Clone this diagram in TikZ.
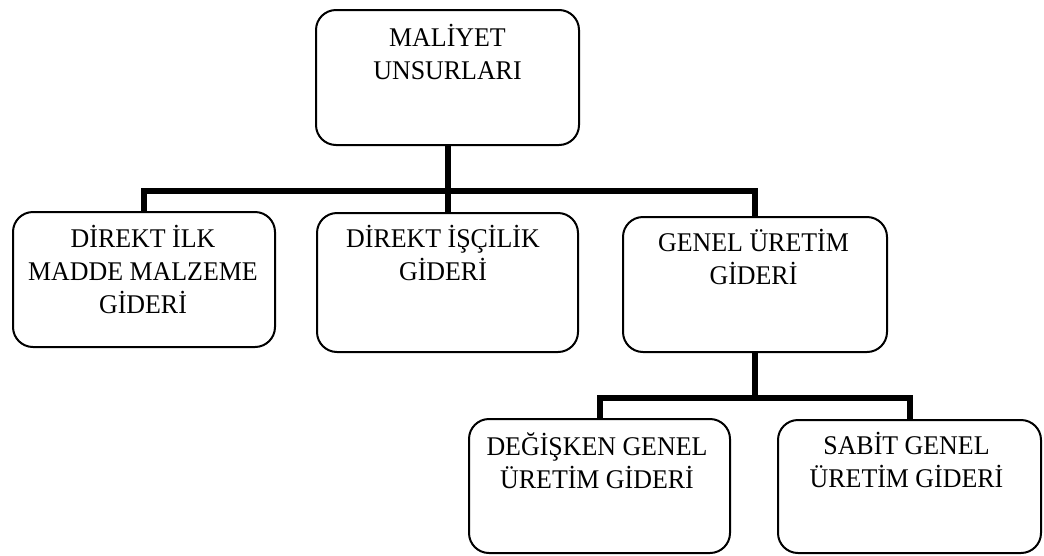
\documentclass[tikz,border=0pt]{standalone}
\usepackage{fontspec}
\setmainfont{Liberation Serif}[FakeStretch=0.96]
\tikzset{
  box/.style={draw=black, line width=2pt, rounded corners=20pt, inner sep=0pt},
  lbl/.style={anchor=north, align=center, inner sep=0pt, font=\fontsize{27}{33}\selectfont},
  conn/.style={draw=black, line width=6pt}
}
\begin{document}
\begin{tikzpicture}[x=1pt, y=-1pt]
\useasboundingbox[fill=white] (0,0) rectangle (1044,555);
% boxes
\node[box, minimum width=263pt, minimum height=135pt] (top) at (447.5,77.5) {};
\node[box, minimum width=262pt, minimum height=135pt] (b1) at (144,279.5) {};
\node[box, minimum width=261pt, minimum height=139pt] (b2) at (447.5,282.5) {};
\node[box, minimum width=264pt, minimum height=135pt] (b3) at (755,284.5) {};
\node[box, minimum width=261pt, minimum height=134pt] (b4) at (599.5,486) {};
\node[box, minimum width=263pt, minimum height=133pt] (b5) at (909.5,486.5) {};
% labels
\node[lbl] (ttop) at (447.5,24) {MALİYET\\UNSURLARI};
\node[lbl] (t1) at (143,225) {DİREKT İLK\\MADDE MALZEME\\GİDERİ};
\node[lbl] (t2) at (443,225) {DİREKT İŞÇİLİK\\GİDERİ};
\node[lbl] (t3) at (753.5,229) {GENEL ÜRETİM\\GİDERİ};
\node[lbl] (t4) at (597,432) {DEĞİŞKEN GENEL\\ÜRETİM GİDERİ};
\node[lbl] (t5) at (906.5,432) {SABİT GENEL\\ÜRETİM GİDERİ};
% connectors
\coordinate (j1) at (447.5,191);
\coordinate (j2) at (755,398);
\draw[conn] (top.south) -- (b2.north);
\draw[conn] (b1.north) |- (j1) -| (b3.north);
\draw[conn] (b3.south) -- (j2);
\draw[conn] (b4.north) |- (j2) -| (b5.north);
\end{tikzpicture}
\end{document}
